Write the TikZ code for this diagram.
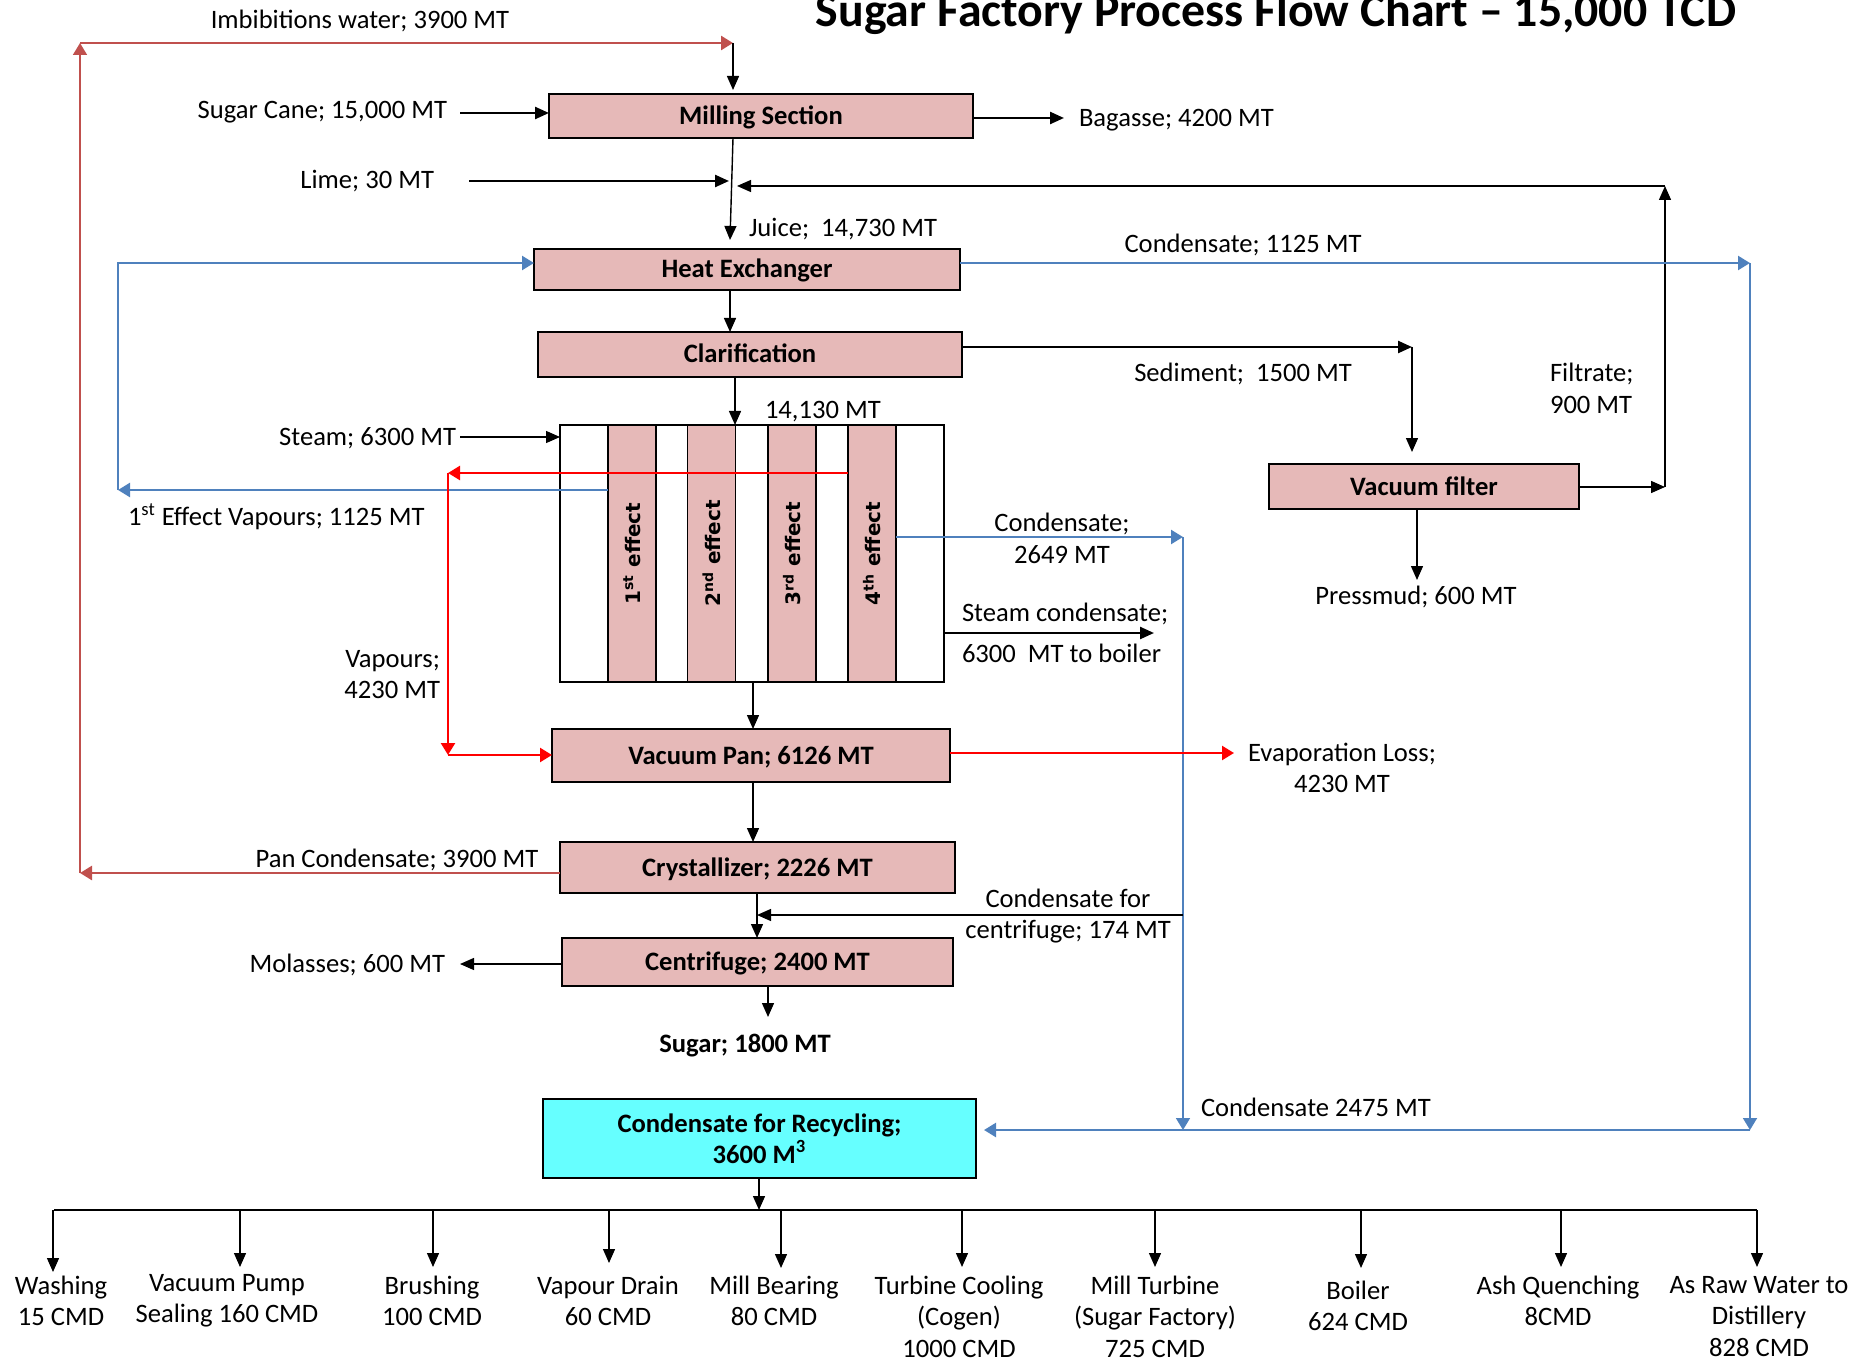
\documentclass[tikz,border=0pt]{standalone}
\usepackage{fontspec}
\setmainfont{Carlito}
\newfontfamily\effectfont{DejaVu Sans}
\usetikzlibrary{arrows.meta}
\definecolor{boxpink}{HTML}{E6B9B8}
\definecolor{reccyan}{HTML}{66FFFF}
\definecolor{lineblue}{HTML}{4F81BD}
\definecolor{linebrown}{HTML}{C0504D}
\definecolor{linered}{HTML}{FF0000}
\newcommand\lblfont{\fontsize{13.3}{15.7}\selectfont}
\begin{document}
\begin{tikzpicture}[x=0.5pt,y=-0.5pt,
 every node/.style={inner sep=0pt,outer sep=0pt},
 lbl/.style={font=\lblfont,text height=10pt,text depth=1.5pt},
 mlbl/.style={font=\lblfont,align=center},
 proc/.style={draw=black,line width=1pt,fill=boxpink,font=\lblfont\bfseries,text height=10pt,text depth=1.5pt},
 colbox/.style={draw=black,line width=0.8pt,fill=boxpink,minimum width=24pt,minimum height=128.5pt},
 efflbl/.style={rotate=90,font=\effectfont\bfseries\fontsize{10}{12}\selectfont},
 arr/.style={-{Triangle[length=7pt,width=6pt]},line width=0.7pt},
 tarr/.style={arr,line width=1.2pt},
 barr/.style={-{Triangle[length=6pt,width=7pt]},draw=lineblue,line width=1.2pt},
 rarr/.style={-{Triangle[length=6pt,width=7pt]},draw=linered,line width=1.2pt},
 brarr/.style={-{Triangle[length=6pt,width=7pt]},draw=linebrown,line width=1.3pt},
 ]
\useasboundingbox (0,0) rectangle (1870,1364);

% title
\node[font=\fontsize{23.9}{28}\selectfont\bfseries,anchor=base] (title) at (1276,27) {Sugar Factory Process Flow Chart \textendash{} 15,000 TCD};

% process boxes
\node[proc,minimum width=212pt,minimum height=22pt] (mill) at (761,116) {Milling Section};
\node[proc,minimum width=213pt,minimum height=20.5pt] (hex) at (747,269.5) {Heat Exchanger};
\node[proc,minimum width=212pt,minimum height=22.5pt] (clar) at (750,354.5) {Clarification};
\node[proc,minimum width=155pt,minimum height=22.5pt] (vf) at (1424,486.5) {Vacuum filter};
\node[draw,line width=1pt,minimum width=192pt,minimum height=128.5pt] (evap) at (752,553.5) {};
\node[colbox] (e1) at (632,553.5) {};
\node[colbox] (e2) at (711.5,553.5) {};
\node[colbox] (e3) at (792,553.5) {};
\node[colbox] (e4) at (872,553.5) {};
\node[efflbl] (e1t) at (e1) {1\textsuperscript{st} effect};
\node[efflbl] (e2t) at (e2) {2\textsuperscript{nd} effect};
\node[efflbl] (e3t) at (e3) {3\textsuperscript{rd} effect};
\node[efflbl] (e4t) at (e4) {4\textsuperscript{th} effect};
\node[proc,minimum width=199pt,minimum height=26.5pt] (vp) at (751,755.5) {Vacuum Pan; 6126 MT};
\node[proc,minimum width=197.5pt,minimum height=25.5pt] (cry) at (757.5,867.5) {Crystallizer; 2226 MT};
\node[proc,minimum width=195.5pt,minimum height=24pt] (cen) at (757.5,962) {Centrifuge; 2400 MT};
\node[draw=black,line width=1pt,fill=reccyan,font=\lblfont\bfseries,align=center,minimum width=216.5pt,minimum height=39.5pt] (rec) at (759.5,1138.5) {Condensate for Recycling;\\3600 M\textsuperscript{3}};

% labels
\node[lbl] (imbl) at (360,20) {Imbibitions water; 3900 MT};
\node[lbl,anchor=east] (canel) at (447,110) {Sugar Cane; 15,000 MT};
\node[lbl,anchor=west] (bagl) at (1079,118) {Bagasse; 4200 MT};
\node[lbl,anchor=east] (liml) at (434,180) {Lime; 30 MT};
\node[lbl,anchor=west] (jul) at (749,228) {Juice;\ \ 14,730 MT};
\node[lbl] (c1l) at (1243,244) {Condensate; 1125 MT};
\node[lbl] (sedl) at (1243,373) {Sediment;\ \ 1500 MT};
\node[mlbl,align=left,anchor=west] (filtl) at (1550,388.5) {Filtrate;\\900 MT};
\node[lbl] (pml) at (1416,596) {Pressmud; 600 MT};
\node[lbl,anchor=west] (ecl) at (765,410) {14,130 MT};
\node[lbl,anchor=east] (stl) at (456,437) {Steam; 6300 MT};
\node[lbl,anchor=west] (v1l) at (128,517) {1\textsuperscript{st} Effect Vapours; 1125 MT};
\node[mlbl,align=right,anchor=east] (vapl) at (440,674.5) {Vapours;\\4230 MT};
\node[mlbl] (c2l) at (1062,538.5) {Condensate;\\2649 MT};
\node[lbl,anchor=west] (sctop) at (962,613) {Steam condensate;};
\node[lbl,anchor=west] (scbot) at (962,654) {6300\ \ MT to boiler};
\node[mlbl] (ell) at (1342,768) {Evaporation Loss;\\4230 MT};
\node[lbl] (pcl) at (397,859) {Pan Condensate; 3900 MT};
\node[mlbl] (cfl) at (1068,916) {Condensate for\\centrifuge; 174 MT};
\node[lbl,anchor=east] (moll) at (445,964) {Molasses; 600 MT};
\node[lbl,font=\lblfont\bfseries] (sugl) at (745,1044) {Sugar; 1800 MT};
\node[lbl,anchor=west] (c3l) at (1201,1108) {Condensate 2475 MT};

% bottom labels
\node[mlbl] (wash) at (61,1301) {Washing\\15 CMD};
\node[mlbl] (vpump) at (227,1301) {Vacuum Pump\\Sealing 160 CMD};
\node[mlbl] (brush) at (432,1301) {Brushing\\100 CMD};
\node[mlbl] (vdrain) at (608,1301) {Vapour Drain\\60 CMD};
\node[mlbl] (mbear) at (774,1301) {Mill Bearing\\80 CMD};
\node[mlbl] (tcool) at (959,1316.5) {Turbine Cooling\\(Cogen)\\1000 CMD};
\node[mlbl] (mturb) at (1155,1316.5) {Mill Turbine\\(Sugar Factory)\\725 CMD};
\node[mlbl] (boil) at (1358,1306) {Boiler\\624 CMD};
\node[mlbl] (ashq) at (1558,1301) {Ash Quenching\\8CMD};
\node[mlbl] (raw) at (1759,1316.5) {As Raw Water to\\Distillery\\828 CMD};

% coordinates
\coordinate (imbT) at (733,43);
\coordinate (imbL) at (80,43);
\coordinate (panL) at (80,873);
\coordinate (millIn) at (733,90);
\coordinate (scS) at (460,113);
\coordinate (bagE) at (1064,118);
\coordinate (juT) at (733,138);
\coordinate (juB) at (730,240);
\coordinate (limS) at (469,181);
\coordinate (limE) at (729,181);
\coordinate (fR) at (1665,487);
\coordinate (fT) at (1665,186);
\coordinate (fL) at (737,186);
\coordinate (c1R) at (1750,263);
\coordinate (c1B) at (1750,1130);
\coordinate (recR) at (984,1130);
\coordinate (v1L) at (118,490);
\coordinate (v1T) at (118,263);
\coordinate (sR) at (1412,347);
\coordinate (sB) at (1412,452);
\coordinate (pmB) at (1417,580);
\coordinate (ceX) at (735,0);
\coordinate (stS) at (460,437);
\coordinate (rvL) at (448,473);
\coordinate (rvB) at (448,755);
\coordinate (evX) at (753,0);
\coordinate (c2R) at (1183,537);
\coordinate (c2B) at (1183,1130);
\coordinate (scE) at (1154,633);
\coordinate (elE) at (1234,753);
\coordinate (ccX) at (757,0);
\coordinate (cfR) at (1183,915);
\coordinate (cfL) at (757,915);
\coordinate (molE) at (460,964);
\coordinate (sugB) at (768,1017);
\coordinate (busC) at (759,1210);
\coordinate (busL) at (54,1210);
\coordinate (busR) at (1757,1210);

% connectors
\draw[brarr] (cry.west |- panL) -- (panL);
\draw[-{Triangle[length=6pt,width=7pt]},draw=linebrown,line width=0.8pt] (panL) -- (imbL);
\draw[brarr] (imbL) -- (imbT);
\draw[arr] (imbT) -- (millIn);
\draw[tarr] (scS) -- (scS -| mill.west);
\draw[tarr] (mill.east |- bagE) -- (bagE);
\draw[arr] (juT) -- (juB);
\draw[tarr] (limS) -- (limE);
\draw[arr] (vf.east |- fR) -- (fR);
\draw[arr] (fR) -- (fT);
\draw[arr] (fT) -- (fL);
\draw[arr] (hex.south -| juB) -- (clar.north -| juB);
\draw[barr] (hex.east |- c1R) -- (c1R);
\draw[barr,line width=0.9pt] (c1R) -- (c1B);
\draw[barr] (c1B) -- (recR);
\draw[barr] (e1.west |- v1L) -- (v1L);
\draw[barr] (v1L) -- (v1T) -- (v1T -| hex.west);
\draw[tarr] (clar.east |- sR) -- (sR);
\draw[arr] (sR) -- (sB);
\draw[arr] (vf.south -| pmB) -- (pmB);
\draw[arr] (clar.south -| ceX) -- (evap.north -| ceX);
\draw[arr] (stS) -- (stS -| evap.west);
\draw[rarr] (e4.west |- rvL) -- (rvL);
\draw[rarr] (rvL) -- (rvB);
\draw[rarr] (rvB) -- (rvB -| vp.west);
\draw[arr] (evap.south -| evX) -- (vp.north -| evX);
\draw[barr] (e4.east |- c2R) -- (c2R);
\draw[barr,line width=0.9pt] (c2R) -- (c2B);
\draw[tarr] (evap.east |- scE) -- (scE);
\draw[rarr] (vp.east |- elE) -- (elE);
\draw[arr] (vp.south -| evX) -- (cry.north -| evX);
\draw[arr] (cry.south -| ccX) -- (cen.north -| ccX);
\draw[arr] (cfR) -- (cfL);
\draw[arr] (cen.west |- molE) -- (molE);
\draw[arr] (cen.south -| sugB) -- (sugB);
\draw[arr] (rec.south -| busC) -- (busC);
\draw[line width=1pt] (busL) -- (busR);
\foreach \bx/\by in {53/1272,240/1267,433/1267,609/1263,781/1268,962/1267,1155/1267,1361/1268,1561/1267,1757/1267}
  \draw[arr] (\bx,1210) -- (\bx,\by);
\end{tikzpicture}
\end{document}
